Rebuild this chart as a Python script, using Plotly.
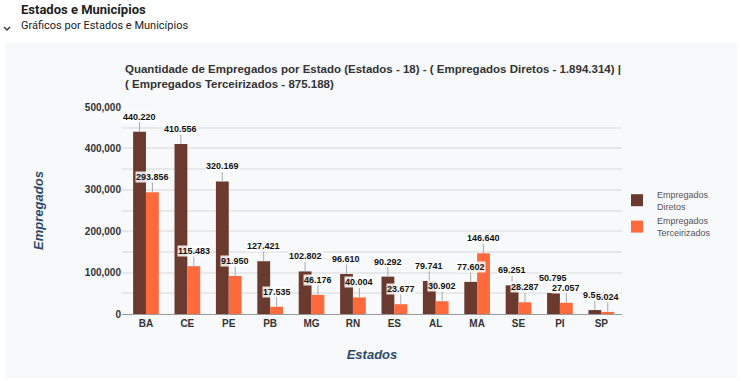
import plotly.graph_objects as go

estados = ["BA", "CE", "PE", "PB", "MG", "RN", "ES", "AL", "MA", "SE", "PI", "SP"]
diretos = [440220, 410556, 320169, 127421, 102802, 96610, 90292, 79741, 77602, 69251, 50795, 9552]
terceirizados = [293856, 115483, 91950, 17535, 46176, 40004, 23677, 30902, 146640, 28287, 27057, 5024]

W, H = 741, 381
L, R, T, B = 122, 622, 107, 314  # plot area pixels


def px(x):
    return (x - L) / (R - L)


def py(y):
    return (B - y) / (B - T)


def fmt(v):
    return f"{v:,}".replace(",", ".")


C_DIR = "#6b3a2e"
C_TER = "#ff6a3d"
bargap = 0.38
bar_w = (R - L) / len(estados) * (1 - bargap) / 2

fig = go.Figure()
fig.add_bar(x=estados, y=diretos, name="Empregados<br>Diretos", marker_color=C_DIR,
            marker_line_width=0)
fig.add_bar(x=estados, y=terceirizados, name="Empregados<br>Terceirizados", marker_color=C_TER,
            marker_line_width=0)

annotations = []
for vals, sh in ((diretos, -bar_w / 2), (terceirizados, bar_w / 2)):
    for e, v in zip(estados, vals):
        annotations.append(dict(
            x=e, y=v, xref="x", yref="y", xshift=sh,
            text="<b>" + fmt(v) + "</b>", showarrow=True, arrowhead=0,
            arrowwidth=1, arrowcolor="#aaaaaa", ax=0, ay=-15, standoff=0,
            font=dict(family="Arial, Liberation Sans", size=9, color="#111"),
            bgcolor="rgba(255,255,255,0.85)", borderpad=0,
        ))

# chart title
annotations.append(dict(
    xref="paper", yref="paper", x=px(123), y=py(61), xanchor="left", yanchor="top",
    align="left", showarrow=False,
    text="<b>Quantidade de Empregados por Estado (Estados - 18) - ( Empregados Diretos - 1.894.314) |<br>( Empregados Terceirizados - 875.188)</b>",
    font=dict(family="Arial, Liberation Sans", size=11.5, color="#333"),
))
# page header
annotations.append(dict(
    xref="paper", yref="paper", x=px(19), y=py(10), xanchor="left", yanchor="middle",
    showarrow=False, text="<b>Estados e Municípios</b>",
    font=dict(family="Roboto", size=13, color="#222"),
))
annotations.append(dict(
    xref="paper", yref="paper", x=px(19), y=py(25), xanchor="left", yanchor="middle",
    showarrow=False, text="Gráficos por Estados e Municípios",
    font=dict(family="Roboto", size=11, color="#222"),
))

shapes = [
    dict(type="rect", xref="paper", yref="paper", layer="below",
         x0=px(5), x1=px(737), y0=py(378), y1=py(43),
         fillcolor="#f7f9fb", line=dict(width=0)),
    dict(type="path", xref="paper", yref="paper",
         path=f"M {px(4)} {py(27)} L {px(7)} {py(30)} L {px(10)} {py(27)}",
         line=dict(color="#333", width=1.3)),
]

fig.update_layout(
    width=W, height=H,
    margin=dict(l=L, r=W - R, t=T, b=H - B),
    paper_bgcolor="white", plot_bgcolor="rgba(0,0,0,0)",
    barmode="group", bargap=bargap, bargroupgap=0,
    font=dict(family="Arial, Liberation Sans"),
    showlegend=True,
    legend=dict(x=px(617), y=py(182), xanchor="left", yanchor="top",
                font=dict(size=9, color="#555"), bgcolor="rgba(0,0,0,0)",
                tracegroupgap=4, itemwidth=30),
    annotations=annotations,
    shapes=shapes,
    xaxis=dict(
        tickfont=dict(family="Arial", size=10, color="#333"),
        showline=True, linecolor="#999", linewidth=1, ticks="",
        title=dict(text="<b><i>Estados</i></b>", standoff=21,
                   font=dict(size=13, color="#2e4a6b")),
    ),
    yaxis=dict(
        range=[0, 500000], dtick=100000, tickformat=",d",
        tickfont=dict(family="Arial", size=10, color="#333"),
        gridcolor="#e6e8ea", gridwidth=2, zeroline=False,
        minor=dict(dtick=50000, showgrid=True, gridcolor="#e6e8ea", gridwidth=2),
        title=dict(text="<b><i>Empregados</i></b>", standoff=38,
                   font=dict(size=13, color="#2e4a6b")),
    ),
)
fig.update_xaxes(tickprefix="<b>", ticksuffix="</b>")
fig.update_yaxes(tickprefix="<b>", ticksuffix="</b>")

fig.write_html("out.html", config={"displayModeBar": False},
               post_script="document.body.style.margin='0';document.body.style.overflow='hidden';")
